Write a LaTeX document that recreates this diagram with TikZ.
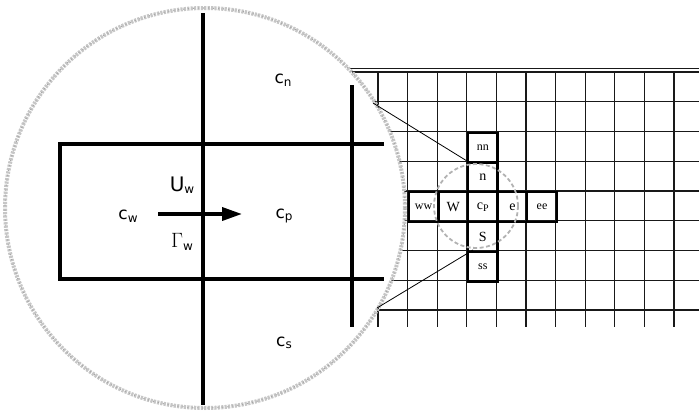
\documentclass[tikz,border=0pt]{standalone}
\usepackage{fontspec}
\setmainfont{DejaVu Sans}
\newfontfamily\gridfont{Liberation Serif}
\usetikzlibrary{arrows.meta}
\newcommand{\biglab}[3]{{\fontsize{#3}{#3}\selectfont #1}{\fontsize{12}{12}\selectfont\raisebox{-2.5pt}{#2}}}
\begin{document}
\begin{tikzpicture}[x=1pt,y=-1pt,
  gridline/.style={draw=black!90,line width=1.1pt},
  cellbox/.style={draw=black,line width=2.4pt,minimum width=29.6pt,minimum height=29.75pt,inner sep=0pt,anchor=north west,font=\gridfont\fontsize{12}{12}\selectfont},
  cellbig/.style={cellbox,font=\gridfont\fontsize{14}{14}\selectfont},
  thickline/.style={line width=3.8pt,black},
  bigring/.style={draw=gray!45,line width=4pt,dash pattern=on 2.2pt off 1.2pt},
  bigdots/.style={draw=gray!70,line width=1.2pt,dash pattern=on 1pt off 4pt},
  smallring/.style={draw=gray!60,line width=1.8pt,dash pattern=on 4pt off 2.5pt},
  zoomline/.style={draw=black,line width=0.8pt},
  lab/.style={inner sep=0pt}]
\useasboundingbox (0,0) rectangle (699,415);
% background grid
\foreach \i in {-3,...,10}
  \draw[gridline] ({378+29.6*\i},71) -- ({378+29.6*\i},327);
\foreach \j in {0,...,8}
  \draw[gridline] (290,{72+29.75*\j}) -- (699,{72+29.75*\j});
\draw[gridline] (290,68.5) -- (699,68.5);
% highlighted cells
\node[cellbox] (nn) at (466.8,131.5) {nn};
\node[cellbig] (n) at (466.8,161.25) {n};
\node[cellbox] (ww) at (407.6,191) {ww};
\node[cellbig] (w) at (437.2,191) {W};
\node[cellbig] (P) at (466.8,191) {c\raisebox{-2pt}{\fontsize{10}{10}\selectfont P}};
\node[cellbig] (e) at (496.4,191) {e};
\node[cellbox] (ee) at (526,191) {ee};
\node[cellbig] (s) at (466.8,220.75) {S};
\node[cellbox] (ss) at (466.8,250.5) {ss};
% small ring
\coordinate (sc) at (476,206);
\draw[smallring] (sc) circle (42pt);
% big circle
\coordinate (bc) at (205,208);
\fill[white] (bc) circle (200pt);
\draw[bigring] (bc) circle (200pt);
\draw[bigdots] (bc) circle (200pt);
% zoom connectors
\coordinate (za) at (373,103);
\coordinate (zb) at (467,161);
\coordinate (zc) at (377,308);
\coordinate (zd) at (473,250);
\draw[zoomline] (za) -- (zb);
\draw[zoomline] (zc) -- (zd);
% control volume lines
\draw[thickline] (203,13) -- (203,405);
\draw[thickline] (352,85) -- (352,327);
\draw[thickline] (384,144) -- (60,144) -- (60,279) -- (384,279);
% arrow
\coordinate (a1) at (158,214);
\coordinate (a2) at (242,214);
\draw[line width=3.6pt,-{Triangle[length=20pt,width=13pt]}] (a1) -- (a2);
% labels
\node[lab] (cn) at (283,80) {\biglab{c}{n}{17}};
\node[lab] (cw) at (128,216) {\biglab{c}{w}{17}};
\node[lab] (cp) at (284,216) {\biglab{c}{p}{17}};
\node[lab] (cs) at (284,343) {\biglab{c}{s}{17}};
\node[lab] (uw) at (182,185) {\biglab{U}{w}{20}};
\node[lab] (gw) at (182,242) {\biglab{$\Gamma$}{w}{21}};
\end{tikzpicture}
\end{document}
